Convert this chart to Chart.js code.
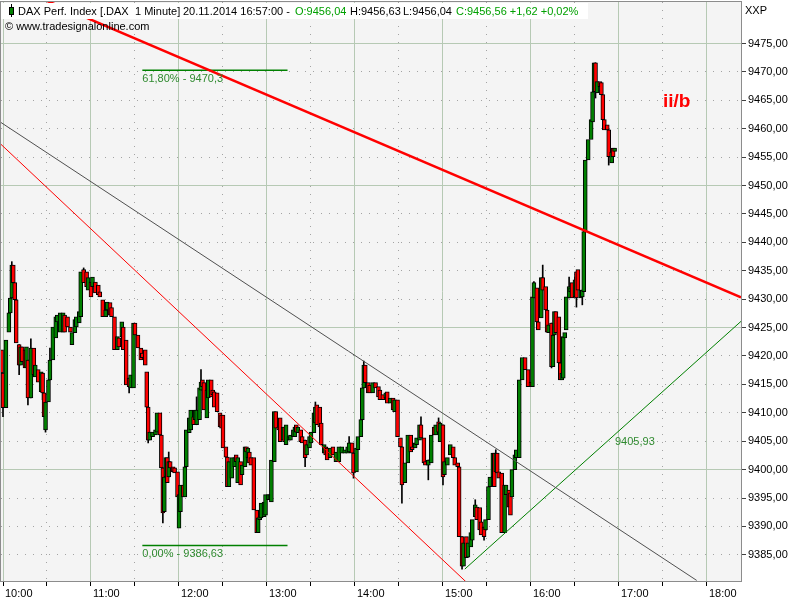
<!DOCTYPE html>
<html>
<head>
<meta charset="utf-8">
<title>DAX 1 Minute</title>
<script src="https://cdn.jsdelivr.net/npm/chart.js@4.4.1/dist/chart.umd.min.js"></script>
<style>
  html, body { margin: 0; padding: 0; background: #fff; }
  #wrap { width: 800px; height: 600px; }
</style>
</head>
<body>
<div id="wrap"><canvas id="daxChart" width="800" height="600"></canvas></div>
<script>
// minutes after 10:00 for every candle
const minutes = [
  -1, 0, 2, 4, 5, 6, 7, 8, 9, 11, 12, 13, 15, 16, 17, 19, 21, 22, 24, 26, 27, 28, 29, 31, 32, 34, 36, 37, 39, 41,
  42, 44, 46, 47, 49, 50, 52, 53, 55, 57, 58, 60, 61, 63, 65, 66, 68, 70, 71, 73, 74, 76, 78, 79, 81, 82, 84, 86, 87, 89,
  90, 92, 94, 95, 97, 98, 99, 100, 102, 104, 105, 107, 108, 109, 110, 111, 112, 113, 114, 116, 117, 119, 120, 121, 123, 124, 125, 127, 128, 130,
  131, 132, 134, 135, 136, 137, 139, 140, 142, 143, 144, 146, 148, 149, 150, 152, 153, 154, 156, 158, 159, 160, 162, 163, 165, 166, 167, 168, 169, 171,
  173, 174, 175, 176, 178, 179, 181, 182, 183, 185, 186, 188, 189, 191, 192, 193, 195, 196, 198, 199, 200, 201, 203, 204, 206, 207, 209, 210, 212, 213,
  214, 216, 217, 219, 220, 221, 223, 225, 227, 229, 231, 233, 235, 236, 238, 239, 241, 242, 244, 245, 246, 247, 249, 250, 252, 254, 256, 257, 259, 261,
  262, 264, 266, 267, 269, 271, 272, 274, 276, 278, 279, 281, 282, 284, 285, 287, 288, 290, 292, 294, 295, 297, 298, 300, 301, 303, 305, 307, 308, 310,
  311, 313, 314, 316, 317, 319, 320, 322, 323, 325, 326, 328, 329, 331, 332, 334, 335, 336, 337, 338, 340, 342, 343, 345, 346, 347, 349, 350, 352, 354,
  356, 358, 360, 361, 362, 364, 365, 367, 368, 370, 371, 372, 374, 375, 376, 377, 379, 380, 381, 382, 383, 384, 386, 387, 388, 390, 391, 392, 394, 395,
  396, 397, 399, 401, 402, 403, 404, 405, 407, 408, 409, 410, 412, 413, 415, 416, 417
];
const opens = [
  9421.1, 9417.0, 9410.9, 9424.2, 9427.6, 9430.2, 9436.0, 9432.9, 9429.9, 9422.0, 9418.4, 9421.6, 9421.1, 9417.9, 9419.3, 9412.6, 9421.4, 9416.3, 9417.6, 9413.7, 9417.0, 9413.5, 9407.0, 9411.9, 9415.8, 9419.3, 9423.2, 9426.0, 9424.2, 9424.2,
  9427.2, 9426.9, 9425.1, 9422.0, 9424.1, 9425.1, 9425.8, 9426.9, 9435.2, 9434.8, 9431.6, 9433.0, 9432.2, 9433.0, 9432.5, 9431.3, 9429.9, 9426.9, 9428.1, 9429.4, 9428.5, 9426.9, 9421.1, 9423.2, 9423.4, 9425.1, 9422.8, 9416.1, 9414.4, 9414.4,
  9425.8, 9423.7, 9421.4, 9420.5, 9421.1, 9417.2, 9411.0, 9405.2, 9405.8, 9406.1, 9406.6, 9410.0, 9406.1, 9400.3, 9392.6, 9398.7, 9402.1, 9398.7, 9401.4, 9400.5, 9400.3, 9399.6, 9389.7, 9392.6, 9397.3, 9395.2, 9400.5, 9406.5, 9407.0, 9409.3,
  9408.8, 9407.9, 9408.8, 9414.0, 9415.8, 9415.3, 9409.1, 9412.6, 9415.8, 9414.0, 9413.7, 9413.5, 9410.0, 9409.6, 9409.6, 9404.0, 9402.2, 9397.0, 9398.5, 9400.5, 9402.6, 9397.7, 9401.4, 9399.1, 9400.5, 9404.0, 9402.1, 9403.1, 9402.1, 9402.1,
  9392.9, 9388.9, 9391.2, 9391.5, 9391.7, 9392.0, 9394.7, 9394.7, 9394.3, 9401.4, 9410.2, 9407.5, 9409.1, 9405.2, 9407.5, 9404.4, 9405.2, 9405.2, 9405.8, 9405.8, 9407.9, 9406.5, 9407.0, 9405.8, 9405.2, 9402.6, 9403.8, 9404.7, 9406.5, 9408.2,
  9411.4, 9411.0, 9408.2, 9402.9, 9404.0, 9403.8, 9402.1, 9404.0, 9401.4, 9401.4, 9402.9, 9402.9, 9402.9, 9403.1, 9404.7, 9402.9, 9399.6, 9403.5, 9405.8, 9408.8, 9414.4, 9418.4, 9415.3, 9414.9, 9413.5, 9415.3, 9414.6, 9414.0, 9413.2, 9412.6,
  9413.7, 9411.7, 9412.6, 9410.2, 9412.3, 9405.6, 9404.0, 9397.7, 9401.2, 9406.1, 9404.0, 9403.8, 9404.4, 9405.2, 9407.9, 9405.6, 9401.4, 9400.8, 9401.2, 9407.5, 9406.1, 9408.4, 9404.9, 9407.9, 9399.1, 9400.8, 9402.6, 9404.0, 9402.1, 9401.2,
  9400.5, 9388.2, 9383.0, 9388.2, 9384.6, 9386.4, 9387.6, 9391.7, 9393.4, 9393.3, 9390.8, 9389.9, 9389.4, 9391.2, 9397.0, 9398.7, 9402.9, 9399.6, 9402.9, 9399.6, 9399.4, 9388.9, 9395.6, 9396.4, 9395.9, 9395.2, 9400.0, 9402.1, 9402.1, 9415.8,
  9419.7, 9417.6, 9415.4, 9414.6, 9430.2, 9432.0, 9426.0, 9426.7, 9433.8, 9432.2, 9428.1, 9424.1, 9425.8, 9418.1, 9423.7, 9427.8, 9426.9, 9418.8, 9415.8, 9416.1, 9423.2, 9424.6, 9430.2, 9431.3, 9432.9, 9430.4, 9434.8, 9435.2, 9430.2, 9430.4,
  9431.3, 9441.9, 9454.5, 9458.1, 9461.2, 9466.5, 9471.6, 9466.3, 9468.3, 9468.1, 9466.0, 9461.6, 9460.7, 9459.8, 9454.0, 9456.6, 9456.0
];
const closes = [
  9417.0, 9410.9, 9422.8, 9427.6, 9430.2, 9436.0, 9432.9, 9429.9, 9422.3, 9418.4, 9421.6, 9419.0, 9417.9, 9421.6, 9412.6, 9421.4, 9416.7, 9418.4, 9415.4, 9417.2, 9413.5, 9409.3, 9411.9, 9415.8, 9419.3, 9425.1, 9426.9, 9427.2, 9427.6, 9427.6,
  9424.2, 9425.1, 9424.2, 9424.1, 9426.4, 9426.9, 9427.8, 9434.8, 9432.9, 9432.2, 9433.8, 9430.4, 9433.9, 9431.1, 9430.8, 9430.4, 9426.9, 9428.1, 9429.5, 9427.2, 9426.9, 9421.1, 9423.4, 9421.6, 9426.0, 9421.1, 9414.9, 9414.6, 9416.7, 9425.8,
  9423.7, 9421.4, 9419.3, 9419.7, 9418.4, 9411.0, 9405.2, 9406.6, 9406.6, 9407.0, 9410.0, 9406.1, 9400.3, 9392.4, 9398.7, 9402.1, 9397.7, 9401.4, 9400.3, 9399.6, 9399.4, 9395.2, 9395.6, 9397.3, 9395.2, 9400.5, 9407.0, 9409.1, 9410.5, 9407.9,
  9410.5, 9410.5, 9414.4, 9415.4, 9414.6, 9410.5, 9414.0, 9415.8, 9412.8, 9413.2, 9411.0, 9410.2, 9407.5, 9407.3, 9403.8, 9402.2, 9397.0, 9401.4, 9402.1, 9402.1, 9401.4, 9402.1, 9397.3, 9400.8, 9404.0, 9403.1, 9403.8, 9401.2, 9400.8, 9392.9,
  9388.9, 9391.5, 9391.7, 9394.1, 9394.3, 9395.6, 9395.6, 9395.6, 9401.7, 9410.2, 9407.3, 9407.0, 9404.9, 9407.5, 9404.9, 9407.9, 9405.8, 9406.1, 9407.0, 9407.5, 9406.6, 9407.5, 9404.9, 9404.7, 9402.1, 9404.4, 9405.8, 9406.6, 9410.0, 9411.0,
  9407.9, 9407.5, 9404.4, 9404.4, 9402.6, 9401.7, 9403.8, 9402.6, 9403.1, 9404.0, 9404.0, 9403.5, 9404.0, 9404.7, 9402.9, 9399.4, 9403.8, 9405.8, 9408.8, 9414.4, 9418.4, 9415.3, 9413.5, 9413.5, 9415.3, 9414.4, 9412.8, 9412.3, 9412.3, 9413.5,
  9411.7, 9412.6, 9410.5, 9412.3, 9405.8, 9404.0, 9397.3, 9401.2, 9406.1, 9403.1, 9403.5, 9404.7, 9405.6, 9407.9, 9405.6, 9401.2, 9400.8, 9401.7, 9406.1, 9406.1, 9407.9, 9406.6, 9408.2, 9398.7, 9401.4, 9402.1, 9404.4, 9402.1, 9400.8, 9400.5,
  9388.2, 9383.0, 9387.1, 9384.5, 9387.1, 9388.9, 9391.2, 9393.8, 9391.2, 9389.4, 9388.5, 9388.2, 9391.2, 9397.0, 9398.7, 9402.9, 9397.0, 9402.9, 9399.4, 9398.5, 9388.9, 9397.3, 9397.3, 9393.4, 9392.0, 9400.0, 9402.6, 9403.5, 9415.8, 9419.7,
  9417.6, 9414.6, 9414.6, 9430.4, 9432.9, 9426.0, 9424.6, 9433.8, 9431.6, 9428.1, 9424.2, 9425.5, 9418.1, 9423.7, 9427.8, 9424.1, 9418.8, 9415.8, 9417.0, 9423.4, 9424.1, 9430.4, 9432.2, 9432.0, 9430.2, 9433.4, 9430.2, 9431.6, 9431.6, 9431.6,
  9441.9, 9454.5, 9458.1, 9461.6, 9466.5, 9471.6, 9466.5, 9468.3, 9467.4, 9466.0, 9461.6, 9459.8, 9459.8, 9455.1, 9455.9, 9455.1, 9456.6
];
// shadows that stick out beyond the bodies
const wickMinutes = [0, 6, 11, 17, 19, 27, 29, 32, 55, 86, 99, 109, 113, 132, 135, 206, 213, 236, 239, 246, 272, 285, 290, 297, 300, 313, 322, 328, 336, 362, 368, 374, 386, 390, 391, 395, 404, 413];
const wickLows = [9409.3, 9430.2, 9416.7, 9411.4, 9412.6, 9412.3, 9406.6, 9415.8, 9432.9, 9413.5, 9404.7, 9390.6, 9398.7, 9407.9, 9414.0, 9400.5, 9408.2, 9403.1, 9398.5, 9414.4, 9394.1, 9405.6, 9398.2, 9406.6, 9397.3, 9382.5, 9391.7, 9387.6, 9399.6, 9430.2, 9431.6, 9417.9, 9430.2, 9430.4, 9428.6, 9429.0, 9465.4, 9453.6];
const wickHighs = [9417.0, 9436.6, 9422.0, 9419.3, 9423.0, 9417.0, 9411.9, 9421.4, 9435.5, 9416.1, 9411.0, 9400.3, 9403.1, 9412.8, 9417.6, 9405.2, 9411.9, 9405.8, 9402.9, 9419.1, 9404.0, 9409.3, 9401.7, 9409.1, 9407.9, 9388.2, 9394.7, 9389.9, 9403.5, 9433.1, 9436.0, 9425.8, 9433.9, 9433.9, 9434.8, 9431.6, 9471.6, 9459.8];

// drawn trend lines, as (minute, price) end points
const redTrendMin = [20, 503.2];
const redTrendPrice = [9483.6, 9430.3];
const thinRedMin = [-2, 318];
const thinRedPrice = [9457.4, 9379.7];
const greyTrendMin = [-2, 473];
const greyTrendPrice = [9461.2, 9380.5];
const greenTrendMin = [314.9, 503.2];
const greenTrendPrice = [9382.5, 9426.1];
const fibMin = [95, 194];
const fib618 = 9470.3;
const fib000 = 9386.63;

// axes
const timeTicks = [0, 30, 60, 90, 120, 150, 180, 210, 240, 270, 300, 330, 360, 390, 420, 450, 480];
const hourLabels = ['10:00', '11:00', '12:00', '13:00', '14:00', '15:00', '16:00', '17:00', '18:00'];
const priceTicks = [9385, 9390, 9395, 9400, 9405, 9410, 9415, 9420, 9425, 9430, 9435, 9440, 9445, 9450, 9455, 9460, 9465, 9470, 9475];

const upColor = '#008000';
const downColor = '#ff0000';
const solidGrid = '#b6c9b4';
const dotGrid = '#a3a3a3';
const labelFont = "'Liberation Sans', Arial, sans-serif";
const fibText = '#2f8a2f';

const pairs = (xs, ys) => xs.map((x, i) => ({ x: x, y: ys[i] }));

const overlay = {
    id: 'overlay',
    beforeDraw(chart) {
        const { ctx, chartArea: a } = chart;
        ctx.save();
        ctx.fillStyle = '#ffffff';
        ctx.fillRect(0, 0, chart.width, chart.height);
        ctx.fillStyle = '#f4f4f4';
        ctx.fillRect(a.left, a.top, a.right - a.left, a.bottom - a.top);
        ctx.restore();
    },
    afterDatasetsDraw(chart) {
        const { ctx, chartArea: a } = chart;
        ctx.save();
        // frame
        ctx.strokeStyle = '#8c8c8c';
        ctx.lineWidth = 1;
        ctx.strokeRect(a.left - 0.5, a.top - 0.5, a.right - a.left + 1, a.bottom - a.top + 1);

        // header box
        ctx.fillStyle = '#ffffff';
        ctx.fillRect(1, 3, 587, 16);
        // symbol icon
        ctx.fillStyle = '#000';
        ctx.fillRect(11, 4, 1, 13);
        ctx.fillRect(9, 7, 5, 8);
        ctx.fillStyle = upColor;
        ctx.fillRect(10, 8, 3, 6);

        ctx.font = '11px ' + labelFont;
        ctx.textBaseline = 'middle';
        ctx.textAlign = 'left';
        const head = [
            ['DAX Perf. Index [.DAX', 18, '#000'],
            ['1 Minute]', 135, '#000'],
            ['20.11.2014 16:57:00 -', 183, '#000'],
            ['O:9456,04', 295, '#00a000'],
            ['H:9456,63', 350, '#000'],
            ['L:9456,04', 403, '#000'],
            ['C:9456,56 +1,62 +0,02%', 456, '#00a000']
        ];
        head.forEach(([t, x, c]) => { ctx.fillStyle = c; ctx.fillText(t, x, 11.5); });
        ctx.fillStyle = '#000';
        ctx.fillText('\u00a9 www.tradesignalonline.com', 5, 26.5);
        ctx.fillText('XXP', 745, 11);

        // fibonacci labels
        const xs = chart.scales.x, ys = chart.scales.y;
        ctx.fillStyle = fibText;
        ctx.fillText('61,80% - 9470,3', xs.getPixelForValue(fibMin[0]), ys.getPixelForValue(fib618) + 9);
        ctx.fillText('0,00% - 9386,63', xs.getPixelForValue(fibMin[0]), ys.getPixelForValue(fib000) + 8);
        ctx.fillText('9405,93', 615, 442);

        ctx.fillStyle = '#ff0000';
        ctx.font = 'bold 19px ' + labelFont;
        ctx.textBaseline = 'alphabetic';
        ctx.fillText('ii/b', 663, 107);
        ctx.restore();
    }
};

const lineSet = (data, color, width, order) => ({
    type: 'line',
    data: data,
    borderColor: color,
    borderWidth: width,
    pointRadius: 0,
    pointHoverRadius: 0,
    tension: 0,
    fill: false,
    clip: 0,
    order: order
});

const ctx = document.getElementById('daxChart');
new Chart(ctx, {
    type: 'bar',
    data: {
        datasets: [
            lineSet(pairs(redTrendMin, redTrendPrice), '#ff0000', 2.5, 0),
            lineSet(pairs(thinRedMin, thinRedPrice), '#ff0000', 1, 0),
            lineSet(pairs(greyTrendMin, greyTrendPrice), '#505050', 1, 0),
            lineSet(pairs(greenTrendMin, greenTrendPrice), '#008000', 1, 0),
            lineSet(pairs(fibMin, [fib618, fib618]), '#008000', 1.5, 0),
            lineSet(pairs(fibMin, [fib000, fib000]), '#008000', 1.5, 0),
            {
                type: 'bar',
                data: minutes.map((m, i) => ({ x: m, y: [opens[i], closes[i]] })),
                backgroundColor: minutes.map((m, i) => closes[i] >= opens[i] ? upColor : downColor),
                borderColor: '#000',
                borderWidth: 1,
                borderSkipped: false,
                barThickness: 4,
                minBarLength: 2,
                grouped: false,
                order: 1
            },
            {
                type: 'bar',
                data: wickMinutes.map((m, i) => ({ x: m, y: [wickLows[i], wickHighs[i]] })),
                backgroundColor: '#000',
                borderWidth: 0,
                barThickness: 1,
                grouped: false,
                order: 2
            }
        ]
    },
    options: {
        responsive: false,
        animation: false,
        devicePixelRatio: 1,
        layout: { padding: { left: 1, top: 2, right: 0, bottom: 0 } },
        plugins: {
            legend: { display: false },
            tooltip: { enabled: false }
        },
        scales: {
            x: {
                type: 'linear',
                min: -1.364,
                max: 503.2,
                offset: false,
                afterBuildTicks: s => { s.ticks = timeTicks.map(v => ({ value: v })); },
                afterFit: s => { s.height = 19; s.paddingLeft = 0; s.paddingRight = 0; },
                grid: {
                    offset: false,
                    color: c => (c.tick && c.tick.value % 60 === 0) ? solidGrid : dotGrid,
                    lineWidth: 1,
                    tickLength: 5,
                    tickColor: '#000',
                    tickBorderDash: []
                },
                border: {
                    display: false,
                    dash: c => (c.tick && c.tick.value % 60 !== 0) ? [1, 7] : []
                },
                ticks: {
                    autoSkip: false,
                    maxRotation: 0,
                    align: 'start',
                    labelOffset: 2,
                    padding: 1,
                    color: '#000',
                    font: { family: labelFont, size: 11 },
                    callback: v => v % 60 === 0 ? hourLabels[v / 60] : ''
                }
            },
            y: {
                position: 'right',
                min: 9380.4,
                max: 9482.3,
                afterBuildTicks: s => { s.ticks = priceTicks.map(v => ({ value: v })); },
                afterFit: s => { s.width = 59; s.paddingTop = 0; s.paddingBottom = 0; },
                grid: {
                    color: c => (c.tick && c.tick.value % 25 === 0) ? solidGrid : dotGrid,
                    lineWidth: 1,
                    tickLength: 5,
                    tickColor: '#404040',
                    tickBorderDash: []
                },
                border: {
                    display: false,
                    dash: c => (c.tick && c.tick.value % 25 !== 0) ? [1, 7] : []
                },
                ticks: {
                    autoSkip: false,
                    padding: 2,
                    color: '#000',
                    font: { family: labelFont, size: 11 },
                    callback: v => v.toFixed(2).replace('.', ',')
                }
            }
        }
    },
    plugins: [overlay]
});
</script>
</body>
</html>
